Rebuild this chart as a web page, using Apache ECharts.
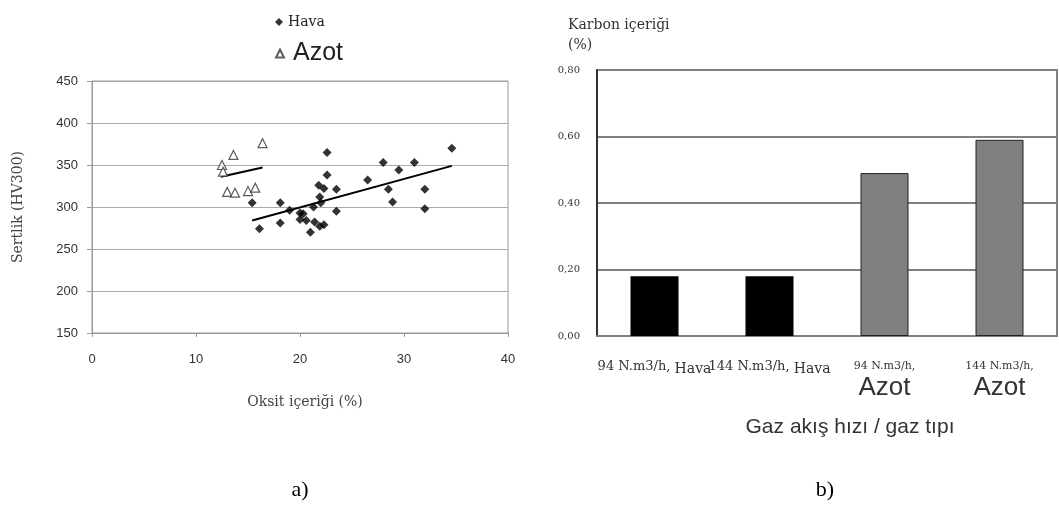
<!DOCTYPE html>
<html>
<head>
<meta charset="utf-8">
<script src="https://cdn.jsdelivr.net/npm/echarts@6/dist/echarts.min.js"></script>
<style>html,body{margin:0;padding:0;background:#fff;}#c{width:1059px;height:508px;}</style>
</head>
<body>
<div id="c"></div>
<script>
// ---- Data ----
const havaPoints = [
  [15.4,305],[16.1,274],[18.1,305],[18.1,281],[19.0,296],[20.0,293],[20.0,285],
  [20.6,284],[21.0,270],[20.3,292],[21.3,300],[21.4,282],[21.9,312],[21.9,277],
  [21.8,326],[22.3,322],[22.6,338],[22.6,365],[23.5,321],[23.5,295],[22.3,279],
  [22.0,305],[26.5,332],[28.0,353],[28.5,321],[28.9,306],[29.5,344],[31.0,353],
  [32.0,321],[32.0,298],[34.6,370]
];
const azotPoints = [
  [12.5,350],[12.6,342],[13.0,318],[13.75,317],[13.6,362],[15.0,319],[15.7,323],[16.4,376]
];
const havaTrend = [[15.4,284],[34.6,349]];
const azotTrend = [[12.4,336],[16.4,347]];

const barCategories = ['94 N.m3/h, Hava','144 N.m3/h, Hava','94 N.m3/h, Azot','144 N.m3/h, Azot'];
const barValues = [0.18, 0.18, 0.49, 0.59];

const leftYTicks = {min:150, max:450, interval:50};
const leftXTicks = {min:0, max:40, interval:10};
const rightYTicks = {min:0, max:0.8, interval:0.2};

// ---- Chart ----
const chart = echarts.init(document.getElementById('c'));
const serif = 'DejaVu Serif';
const sans = 'Liberation Sans';

chart.setOption({
  animation:false,
  backgroundColor:'#fff',
  legend:[
    {data:['Hava'], left:270, top:10, itemWidth:8, itemHeight:8, itemGap:4,
     textStyle:{fontFamily:serif, fontSize:14, color:'#222'}},
    {data:['Azot'], left:270, top:36, itemWidth:8, itemHeight:8, itemGap:8,
     textStyle:{fontFamily:sans, fontSize:25, color:'#222', padding:[0,0,0,4]}}
  ],
  grid:[
    {left:92, top:81, width:416, height:252, show:true, borderColor:'#999', borderWidth:1},
    {left:597, top:70, width:460, height:266, show:true, borderColor:'#808080', borderWidth:2}
  ],
  xAxis:[
    {gridIndex:0, type:'value', min:leftXTicks.min, max:leftXTicks.max, interval:leftXTicks.interval,
     name:'Oksit içeriği (%)', nameLocation:'middle', nameGap:62,
     nameTextStyle:{fontFamily:serif, fontSize:14, color:'#444', padding:[0,0,0,10]},
     axisLine:{show:true, lineStyle:{color:'#999', width:1}},
     axisTick:{show:true, length:4, lineStyle:{color:'#999'}},
     axisLabel:{margin:20, fontFamily:sans, fontSize:13, color:'#333'},
     splitLine:{show:false}},
    {gridIndex:1, type:'category', data:barCategories,
     axisLine:{show:true, lineStyle:{color:'#808080', width:2}},
     axisTick:{show:false},
     axisLabel:{interval:0, hideOverlap:false, margin:24, color:'#333',
       formatter:function(v){
         const i = v.lastIndexOf(', ');
         const rate = v.slice(0, i + 1);
         const gas = v.slice(i + 2);
         return gas === 'Hava' ? '{r|' + rate + ' }{h|' + gas + '}' : '{s|' + rate + '}\n{a|' + gas + '}';
       },
       rich:{
         r:{fontFamily:serif, fontSize:13, color:'#333', lineHeight:14},
         s:{fontFamily:serif, fontSize:11, color:'#333', lineHeight:12},
         h:{fontFamily:serif, fontSize:14, color:'#333', lineHeight:14, padding:[4,0,0,0]},
         a:{fontFamily:sans, fontSize:26, color:'#333', lineHeight:32}
       }}}
  ],
  yAxis:[
    {gridIndex:0, type:'value', min:leftYTicks.min, max:leftYTicks.max, interval:leftYTicks.interval,
     name:'Sertlik (HV300)', nameLocation:'middle', nameGap:67,
     nameTextStyle:{fontFamily:serif, fontSize:14, color:'#444'},
     axisLine:{show:true, lineStyle:{color:'#999', width:1}},
     axisTick:{show:true, length:5, lineStyle:{color:'#999'}},
     axisLabel:{margin:14, fontFamily:sans, fontSize:13, color:'#333'},
     splitLine:{show:true, lineStyle:{color:'#aaa', width:1}}},
    {gridIndex:1, type:'value', min:rightYTicks.min, max:rightYTicks.max, interval:rightYTicks.interval,
     axisLine:{show:true, lineStyle:{color:'#333', width:2}},
     axisTick:{show:false},
     axisLabel:{margin:17, fontFamily:serif, fontSize:10, color:'#333', padding:[6,0,0,0],
       formatter:function(v){ return v.toFixed(2).replace('.', ','); }},
     splitLine:{show:true, lineStyle:{color:'#808080', width:2}}}
  ],
  series:[
    {name:'Hava', type:'scatter', xAxisIndex:0, yAxisIndex:0, data:havaPoints,
     symbol:'diamond', symbolSize:9, itemStyle:{color:'#000'}},
    {name:'Azot', type:'scatter', xAxisIndex:0, yAxisIndex:0, data:azotPoints,
     symbol:'triangle', symbolSize:9, itemStyle:{color:'#fff', borderColor:'#333', borderWidth:1.2}},
    {name:'Hava trend', type:'line', xAxisIndex:0, yAxisIndex:0, data:havaTrend,
     symbol:'none', lineStyle:{color:'#000', width:2}, z:1},
    {name:'Azot trend', type:'line', xAxisIndex:0, yAxisIndex:0, data:azotTrend,
     symbol:'none', lineStyle:{color:'#000', width:2}, z:1},
    {name:'Karbon', type:'bar', xAxisIndex:1, yAxisIndex:1, barWidth:48,
     data:barValues.map(function(v, i){
       const isHava = barCategories[i].indexOf('Hava') >= 0;
       return {value:v, itemStyle:{color:isHava ? '#000' : '#808080', borderColor:'#222', borderWidth:isHava ? 0 : 1}};
     })}
  ],
  graphic:[
    {type:'text', left:568, top:18, style:{text:'Karbon içeriği', font:'14px "DejaVu Serif"', fill:'#333'}},
    {type:'text', left:568, top:38, style:{text:'(%)', font:'14px "DejaVu Serif"', fill:'#333'}},
    {type:'text', x:850, y:427, style:{text:'Gaz akış hızı / gaz tıpı', font:'21px "Liberation Sans"', fill:'#333', align:'center', verticalAlign:'middle'}},
    {type:'text', x:300, y:490, style:{text:'a)', font:'22px "Liberation Serif"', fill:'#000', align:'center', verticalAlign:'middle'}},
    {type:'text', x:825, y:490, style:{text:'b)', font:'22px "Liberation Serif"', fill:'#000', align:'center', verticalAlign:'middle'}}
  ]
});
</script>
</body>
</html>
